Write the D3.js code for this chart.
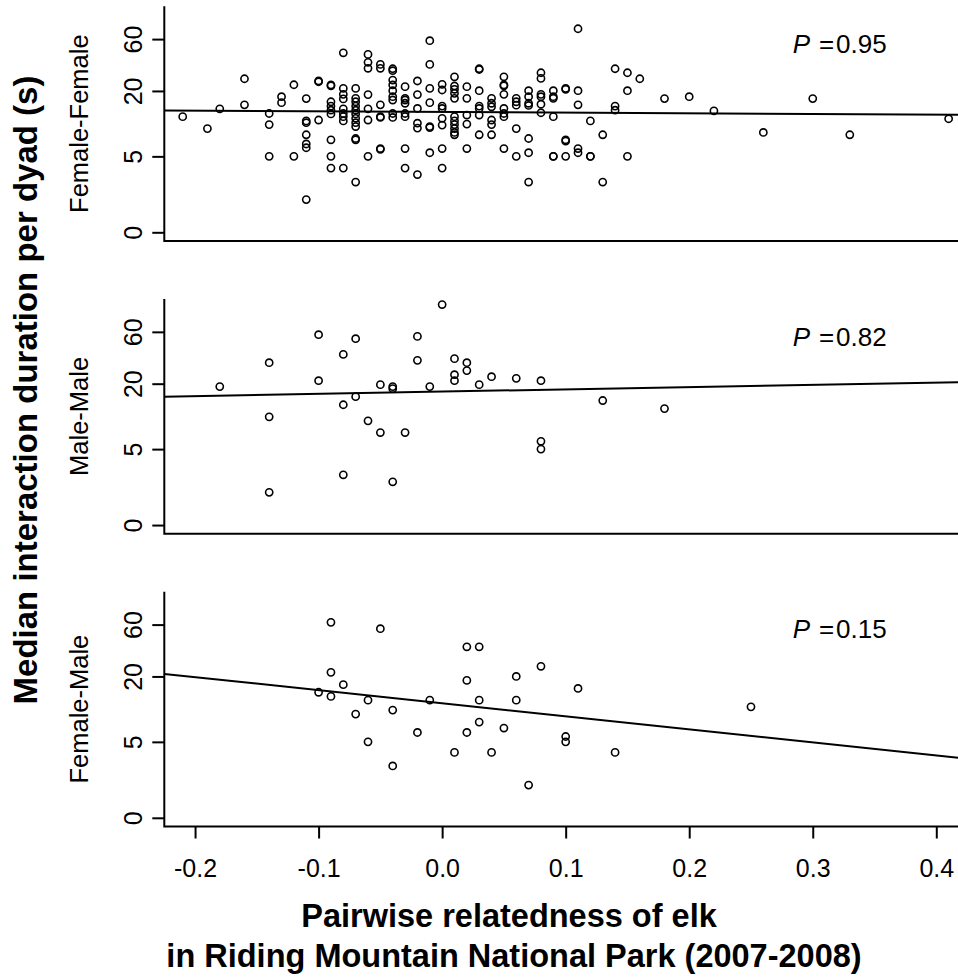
<!DOCTYPE html>
<html>
<head>
<meta charset="utf-8">
<script src="https://cdn.jsdelivr.net/npm/d3@7"></script>
<style>
  body { margin: 0; background: #fff; }
  text { font-family: "Liberation Sans", Arial, sans-serif; fill: #000; }
</style>
</head>
<body>
<script>
// panels, top to bottom
var panelNames = ["Female-Female", "Male-Male", "Female-Male"];
var pValues = ["0.95", "0.82", "0.15"];
// fitted line: ln(duration) = a + b * relatedness
var fitIntercepts = [2.550, 2.828, 2.428];
var fitSlopes = [-0.139, 0.481, -2.764];

var yTickValues = [1, 5, 20, 60];
var yTickLabels = ["0", "5", "20", "60"];
var xTickValues = [-0.2, -0.1, 0.0, 0.1, 0.2, 0.3, 0.4];

// Female-Female: relatedness per column, durations (s) in that column
var ffRelatedness = [-0.21, -0.19, -0.18, -0.16, -0.14, -0.13, -0.12, -0.11, -0.10, -0.09,
    -0.08, -0.07, -0.06, -0.05, -0.04, -0.03, -0.02, -0.01, 0.00, 0.01,
    0.02, 0.03, 0.04, 0.05, 0.06, 0.07, 0.08, 0.09, 0.10, 0.11,
    0.12, 0.13, 0.14, 0.15, 0.16, 0.18, 0.20, 0.22, 0.26, 0.30, 0.33, 0.41];
var ffDurations = [
    [11.6], [9.0], [13.7], [25.9, 14.9], [12.4, 9.8, 5.0], [17.7, 15.6], [22.8, 5.0],
    [17.0, 10.6, 10.2, 7.9, 6.5, 6.0, 2.0],
    [24.7, 24.3, 10.8],
    [22.7, 22.3, 15.9, 14.5, 13.3, 12.3, 7.1, 5.0, 3.9],
    [44.9, 21.1, 18.6, 16.9, 13.7, 12.4, 11.6, 10.6, 3.9],
    [21.1, 17.1, 15.9, 14.5, 13.3, 12.3, 11.2, 10.2, 9.4, 7.3, 7.1, 2.9],
    [43.4, 36.7, 32.3, 18.5, 13.7, 10.8, 5.0],
    [35.1, 32.3, 14.9, 11.6, 11.4, 5.9, 5.8],
    [32.0, 30.7, 25.2, 22.7, 20.1, 17.7, 16.5, 12.4, 11.4],
    [21.9, 17.1, 16.5, 15.4, 12.4, 11.6, 5.9, 3.9],
    [24.7, 18.5, 13.8, 10.1, 9.1, 3.4],
    [58.0, 35.1, 21.1, 15.6, 9.4, 9.2, 5.4],
    [23.0, 20.4, 14.5, 13.8, 11.2, 9.7, 5.9, 3.9],
    [27.0, 22.2, 20.7, 19.0, 17.1, 11.6, 10.6, 9.8, 9.0, 8.3, 7.9],
    [21.9, 17.1, 12.0, 9.9, 5.9],
    [32.0, 31.5, 20.1, 14.5, 13.8, 12.0, 7.9],
    [17.1, 15.4, 14.3, 10.8, 9.8, 7.9],
    [27.0, 22.7, 22.3, 18.6, 13.8, 12.4, 11.6, 5.9],
    [17.1, 15.9, 14.8, 9.0, 5.0],
    [20.1, 17.7, 15.4, 14.7, 7.3, 5.4, 2.9],
    [29.4, 26.1, 18.6, 17.7, 15.1, 12.6],
    [20.1, 17.7, 17.1, 11.6, 5.0, 5.0],
    [21.1, 20.7, 7.1, 6.9, 5.0],
    [74.7, 20.1, 14.9, 5.9, 5.4],
    [10.6, 5.0, 5.0], [7.9, 2.9], [32.0, 14.5, 13.3], [29.4, 20.1, 5.0],
    [25.9], [17.0], [17.7], [13.1], [8.3], [17.0], [7.9], [11.1]
];

// Male-Male
var mmRelatedness = [-0.18, -0.14, -0.10, -0.08, -0.07, -0.06, -0.05, -0.04, -0.03, -0.02,
    -0.01, 0.00, 0.01, 0.02, 0.03, 0.04, 0.06, 0.08, 0.13, 0.18];
var mmDurations = [
    [18.8], [31.2, 9.9, 2.0], [56.5, 21.3], [37.2, 12.8, 2.9], [51.9, 15.2], [9.1],
    [19.6, 7.1], [18.8, 18.0, 2.5], [7.1], [54.5, 32.8], [18.8], [107],
    [34.0, 24.2, 21.3], [31.2, 26.4], [19.6], [23.2], [22.4], [21.3, 5.9, 5.0], [14.0], [11.8]
];

// Female-Male
var fmRelatedness = [-0.10, -0.09, -0.08, -0.07, -0.06, -0.05, -0.04, -0.02, -0.01, 0.01,
    0.02, 0.03, 0.04, 0.05, 0.06, 0.07, 0.08, 0.10, 0.11, 0.14, 0.25];
var fmDurations = [
    [14.3], [62.9, 21.8, 13.1], [16.8], [9.0], [12.1, 5.0], [55.0], [9.8, 3.0], [6.1],
    [12.1], [4.0], [37.5, 18.4, 6.1], [37.5, 12.1, 7.6], [4.0], [6.7], [20.0, 12.1],
    [2.0], [24.8], [5.6, 5.0], [15.5], [4.0], [10.5]
];

var relatedness = [ffRelatedness, mmRelatedness, fmRelatedness];
var durations = [ffDurations, mmDurations, fmDurations];

// layout
var W = 958, H = 979;
var left = 164.3, right = 979.4;
var panelH = 234.7, panelStep = 292.75, firstTop = 6.3;

var svg = d3.select("body").append("svg")
    .attr("width", W)
    .attr("height", H);

var x = d3.scaleLinear().domain([-0.2249, 0.4349]).range([left, right]);
// log axis, data range 1..100 padded by 4% on each side
var y = d3.scaleLog()
    .domain([Math.pow(100, -0.04), Math.pow(100, 1.04)])
    .range([panelH, 0]);

panelNames.forEach(function(name, k){

    var g = svg.append("g").attr("transform", "translate(0," + (firstTop + k * panelStep) + ")");

    // flatten columns into points
    var pts = [];
    relatedness[k].forEach(function(r, i){
        durations[k][i].forEach(function(v){ pts.push({r: r, v: v}); });
    });

    // y axis
    var yAxis = g.append("g")
        .attr("transform", "translate(" + left + ",0)")
        .call(d3.axisLeft(y).tickValues(yTickValues)
            .tickFormat(function(d, i){ return yTickLabels[i]; })
            .tickSize(12).tickSizeOuter(0));
    yAxis.select(".domain").remove();
    yAxis.selectAll("line").attr("stroke-width", 2);
    yAxis.selectAll("text")
        .attr("x", null).attr("dy", null)
        .attr("text-anchor", "middle")
        .attr("transform", "translate(-22.5,0) rotate(-90)")
        .style("font-size", "25px");

    // L-shaped frame
    g.append("path")
        .attr("d", "M" + left + ",0V" + panelH + "H" + right)
        .attr("fill", "none")
        .attr("stroke", "#000")
        .attr("stroke-width", 2);

    // points
    g.selectAll(".pt")
        .data(pts)
        .enter()
        .append("circle")
        .attr("class", "pt")
        .attr("cx", function(d){ return x(d.r); })
        .attr("cy", function(d){ return y(d.v); })
        .attr("r", 3.6)
        .attr("fill", "none")
        .attr("stroke", "#000")
        .attr("stroke-width", 1.6);

    // fitted line across the plot region
    var line = d3.line()
        .x(function(d){ return x(d); })
        .y(function(d){ return y(Math.exp(fitIntercepts[k] + fitSlopes[k] * d)); });
    g.append("path")
        .attr("d", line(x.domain()))
        .attr("fill", "none")
        .attr("stroke", "#000")
        .attr("stroke-width", 2);

    // P value
    var pt = g.append("text")
        .attr("y", 46.7)
        .style("font-size", "26px");
    pt.append("tspan").attr("x", 792.7).style("font-style", "italic").text("P");
    pt.append("tspan").attr("x", 819).text("=");
    pt.append("tspan").attr("x", 836).text(pValues[k]);

    // panel label
    g.append("text")
        .attr("transform", "translate(88.3," + (panelH / 2) + ") rotate(-90)")
        .attr("text-anchor", "middle")
        .style("font-size", "25.5px")
        .text(name);

    // x axis only on the bottom panel
    if (k === panelNames.length - 1) {
        var xAxis = g.append("g")
            .attr("transform", "translate(0," + panelH + ")")
            .call(d3.axisBottom(x).tickValues(xTickValues)
                .tickFormat(function(d){ return d.toFixed(1); })
                .tickSize(12).tickSizeOuter(0).tickPadding(20.5));
        xAxis.select(".domain").remove();
        xAxis.selectAll("line").attr("stroke-width", 2);
        xAxis.selectAll("text").style("font-size", "25px");
    }
});

// axis titles
svg.append("text")
    .attr("transform", "translate(37,390) rotate(-90)")
    .attr("text-anchor", "middle")
    .style("font-size", "33px")
    .style("font-weight", "bold")
    .text("Median interaction duration per dyad (s)");

svg.append("text")
    .attr("x", 509).attr("y", 927)
    .attr("text-anchor", "middle")
    .style("font-size", "32.5px")
    .style("font-weight", "bold")
    .text("Pairwise relatedness of elk");

svg.append("text")
    .attr("x", 514).attr("y", 967)
    .attr("text-anchor", "middle")
    .style("font-size", "32.5px")
    .style("font-weight", "bold")
    .text("in Riding Mountain National Park (2007-2008)");
</script>
</body>
</html>
